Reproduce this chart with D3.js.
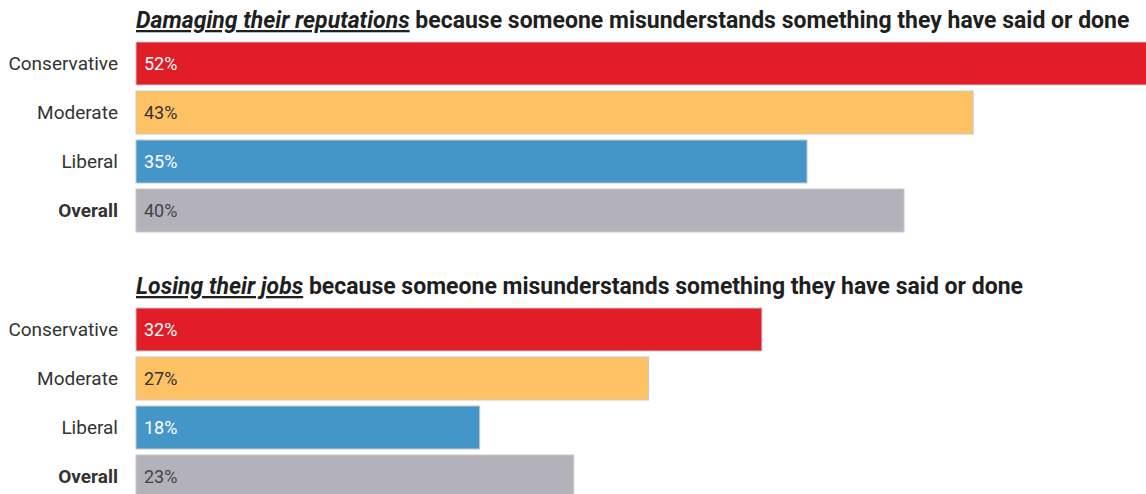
<!DOCTYPE html>
<html>
<head>
<meta charset="utf-8">
<script src="https://cdn.jsdelivr.net/npm/d3@7"></script>
<style>
  body { margin: 0; background: #fff; }
  svg { display: block; font-family: Roboto, sans-serif; }
</style>
</head>
<body>
<div id="chart"></div>
<script>
// categories and colours
const groups = ['Conservative', 'Moderate', 'Liberal', 'Overall'];
const groupColors = ['#e11d27', '#fec265', '#4596c8', '#b3b2bb'];
const labelColors = ['#ffffff', '#333333', '#ffffff', '#444444'];

// panel titles (underlined italic part + rest)
const titleLead = ['Damaging their reputations', 'Losing their jobs'];
const titleRest = [' because someone misunderstands something they have said or done',
                   ' because someone misunderstands something they have said or done'];

// printed percentages
const reputationLabels = [52, 43, 35, 40];
const jobLabels = [32, 27, 18, 23];
// bar lengths as drawn (unrounded estimates)
const reputationValues = [53.0, 43.6, 34.95, 40.0];
const jobValues = [32.6, 26.7, 17.9, 22.8];

const width = 1146, height = 494;
const left = 136;

const svg = d3.select('#chart').append('svg')
    .attr('width', width)
    .attr('height', height);

// shared scale for both panels
const x = d3.scaleLinear().domain([0, 50]).range([0, 960]);

const y = d3.scaleBand()
    .domain(groups)
    .range([0, 190])
    .paddingInner(0.1224)
    .paddingOuter(0);

function drawPanel(top, lead, rest, values, labels) {
    let g = svg.append('g').attr('transform', `translate(0, ${top})`);

    // title
    let title = g.append('text')
        .attr('x', left)
        .attr('y', -14)
        .attr('font-size', 23)
        .attr('font-weight', 700)
        .attr('fill', '#1f1f1f');
    title.append('tspan')
        .attr('font-style', 'italic')
        .attr('text-decoration', 'underline')
        .text(lead);
    title.append('tspan').text(rest);

    let rows = g.selectAll('.row')
        .data(groups.map((d, i) => ({name: d, value: values[i], label: labels[i], i: i})))
        .enter()
        .append('g')
        .attr('class', 'row')
        .attr('transform', d => `translate(0, ${y(d.name)})`);

    rows.append('rect')
        .attr('x', left)
        .attr('width', d => x(d.value))
        .attr('height', y.bandwidth())
        .attr('fill', d => groupColors[d.i])
        .attr('stroke', '#c8c8c8')
        .attr('stroke-width', 1);

    // category labels
    rows.append('text')
        .attr('x', 118)
        .attr('y', y.bandwidth() / 2)
        .attr('dy', '0.36em')
        .attr('text-anchor', 'end')
        .attr('font-size', 19)
        .attr('font-weight', d => d.name === 'Overall' ? 700 : 400)
        .attr('fill', '#333')
        .text(d => d.name);

    // value labels
    rows.append('text')
        .attr('x', left + 8)
        .attr('y', y.bandwidth() / 2)
        .attr('dy', '0.36em')
        .attr('font-size', 18)
        .attr('fill', d => labelColors[d.i])
        .text(d => d.label + '%');
}

drawPanel(42, titleLead[0], titleRest[0], reputationValues, reputationLabels);
drawPanel(308, titleLead[1], titleRest[1], jobValues, jobLabels);
</script>
</body>
</html>
